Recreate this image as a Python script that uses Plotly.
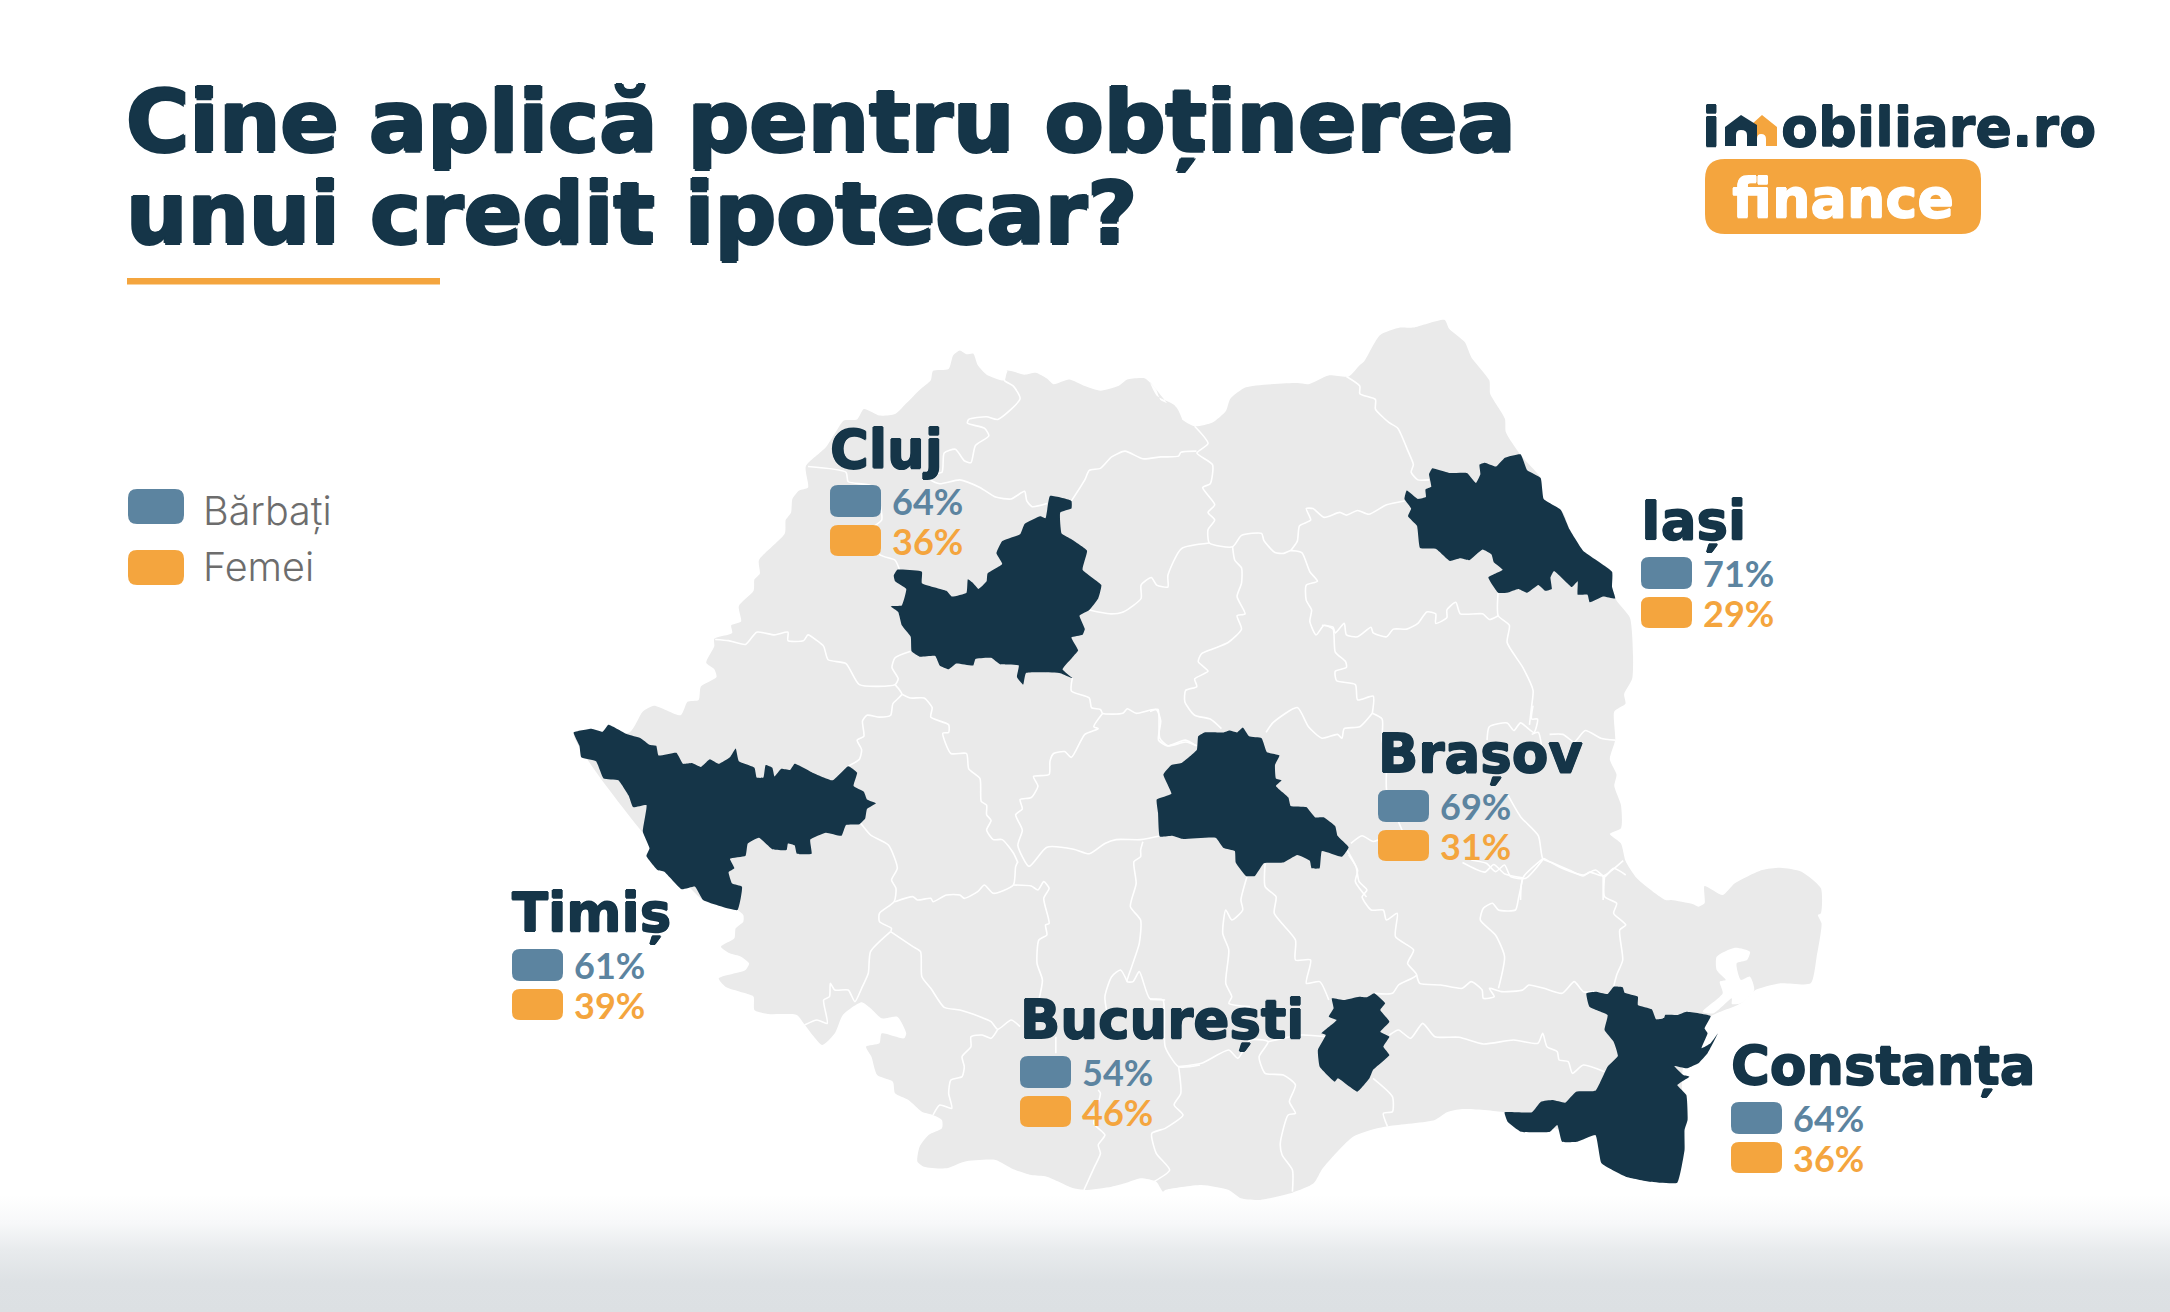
import plotly.graph_objects as go

# ---------- chart data ----------
judete = ["Cluj", "Iași", "Brașov", "Timiș", "București", "Constanța"]
barbati = [64, 71, 69, 61, 54, 64]
femei = [36, 29, 31, 39, 46, 36]
legend_labels = ["Bărbați", "Femei"]
title_lines = ["Cine aplică pentru obținerea", "unui credit ipotecar?"]

BLUE, ORANGE, DARK, GRAY = "#5C84A0", "#F4A53E", "#153548", "#EAEAEA"


def Z(x0, y0, fx, fy, pts):
    return [(x0 + a / fx, y0 + b / fy) for a, b in pts]


def Z2(p): return Z(500, 300, 2.24, 2.613, p)
def Z3(p): return Z(1150, 300, 2.24, 2.613, p)
def Z4(p): return Z(500, 800, 2.24, 3, p)
def Z5(p): return Z(1150, 800, 1.65, 3, p)


# ---------- map outlines ----------
outer = (
    Z2([(165,1130),(290,1130),(320,1075),(345,1060),(405,1085),(420,1050),(445,1045),(450,1010),(485,985),(480,965),(462,948),(480,905),(480,885),(520,870),(518,850),(540,840),(535,800),(568,760),(570,730),(582,715),(580,680),(638,610),(640,575),(652,555),(655,520),(670,498),(690,490),(685,435),(730,385),(755,340),(770,315),(800,312),(815,285),(850,302),(885,298),(912,268),(940,235),(965,210),(970,185),(1005,180),(1015,145),(1030,132),(1045,142),(1060,140),(1070,170),(1090,195),(1130,210),(1135,185),(1175,195),(1200,190),(1225,205),(1240,220),(1275,208),(1310,225),(1345,237),(1385,225),(1405,208),(1445,205),(1470,235),(1480,262),(1515,280),(1530,320)])
    + Z3([(0,215),(15,250),(55,275),(70,310),(100,330),(140,320),(170,290),(180,258),(215,228),(330,217),(355,220),(400,197),(445,200),(470,170),(480,160),(515,92),(560,72),(590,72),(660,52),(670,75),(705,110),(720,150),(760,210),(762,245),(795,310),(797,345),(830,405),(875,465),(882,520),(925,555),(940,600),(970,655),(1035,710),(1035,750),(1045,785),(1075,830),(1082,930),(1080,990),(1062,1030),(1065,1055),(1040,1075),(1042,1150),(1030,1200),(1045,1240),(1040,1270),(1055,1320),(1055,1380),(1030,1395),(1055,1420),(1065,1465),(1090,1510),(1155,1568)])
    + Z5([(860,300),(895,312),(905,320),(915,310),(915,258),(945,285),(965,250),(1010,210),(1040,203),(1075,215),(1107,265),(1107,340),(1102,345),(1108,370),(1100,470),(1090,550),(1040,550),(997,572),(975,610),(935,640),(925,650),(880,800),(870,1000),(700,1000),(585,937),(515,927),(490,937),(470,960),(395,978),(375,985),(335,1010),(285,1105),(270,1150),(235,1178),(180,1200),(150,1195),(130,1170),(85,1155),(25,1170)])
    + Z4([(1485,1175),(1470,1145),(1435,1135),(1400,1150),(1370,1160),(1310,1170),(1285,1165),(1225,1130),(1190,1125),(1150,1108),(1110,1080),(1040,1085),(1000,1105),(950,1100),(935,1085),(940,1040),(960,1005),(990,985),(990,960),(970,945),(945,935),(915,900),(885,880),(880,845),(845,825),(832,770),(820,740),(850,730),(855,700),(905,715),(910,700),(890,650),(855,655),(830,625),(810,607),(768,645),(750,700),(722,735),(700,705),(680,670),(665,645),(600,642),(570,630),(568,590),(550,580),(505,560),(490,535),(550,510),(558,490),(540,470),(515,460),(495,440),(525,415),(528,385),(545,365),(545,345),(532,330),(455,300)])
)

lake = Z5([(965,443),(990,455),(985,480),(968,490),(975,540),(990,530),(997,570),(975,610),(960,612),(960,595),(930,640),(912,635),(945,580),(940,545),(950,540),(935,510),(935,470)])

dark_counties = [
    Z2([(165,1130),(205,1120),(230,1128),(243,1110),(285,1135),(315,1145),(335,1162),(350,1165),(355,1190),(395,1183),(410,1212),(430,1210),(450,1220),(470,1200),(490,1212),(515,1195),(528,1172),(535,1205),(570,1222),(575,1248),(590,1248),(595,1215),(610,1222),(615,1245),(630,1225),(650,1228),(660,1212),(700,1235),(745,1255),(780,1218),(800,1235),(792,1270),(815,1285),(822,1305),(842,1315),(822,1330),(818,1355),(805,1370),(775,1372),(765,1400),(730,1392),(695,1410),(698,1447),(665,1447),(660,1425),(645,1420),(642,1437),(610,1435),(580,1405),(555,1420),(550,1452),(515,1460),(525,1485),(512,1495),(520,1525),(542,1533)])
    + Z4([(532,330),(455,300),(437,260),(407,268),(368,215),(353,210),(328,168),(335,145),(320,95),(328,15)])
    + Z2([(298,1325),(288,1295),(265,1255),(232,1250),(215,1205),(182,1195),(178,1165),(165,1130)]),
    Z2([(890,705),(945,710),(945,740),(1000,760),(1012,775),(1045,765),(1048,730),(1060,740),(1072,755),(1090,735),(1092,715),(1125,690),(1112,662),(1125,630),(1165,612),(1175,585),(1210,565),(1222,570),(1232,512),(1280,525),(1280,545),(1255,555),(1258,610),(1280,625),(1315,655),(1305,705),(1347,745),(1340,780),(1320,810),(1298,825),(1310,860),(1305,875),(1280,882),(1295,915),(1285,930),(1260,965),(1282,988),(1255,975),(1178,975),(1172,1005),(1158,985),(1162,955),(1120,952),(1100,935),(1065,938),(1060,955),(1022,950),(1005,965),(985,955),(975,930),(940,932),(922,918),(920,880),(900,850),(892,815),(875,800),(900,798),(910,755),(885,735),(882,720),(890,705)]),
    Z3([(830,403),(845,445),(875,465),(882,520),(920,548),(940,600),(970,655),(1035,710),(1035,750),(1042,780),(1015,775),(985,790),(980,770),(958,770),(958,735),(945,750),(905,708),(897,725),(900,755),(885,760),(870,745),(845,765),(825,755),(800,765),(780,765),(758,725),(790,705),(770,685),(765,665),(745,652),(715,680),(695,675),(672,682),(640,650),(605,648),(598,590),(578,565),(585,545),(570,520),(575,498),(600,520),(618,515),(617,495),(630,488),(625,455),(632,440),(670,452),(710,452),(730,478),(740,455),(738,430),(750,425),(775,435),(795,412),(830,403)]),
    Z3([(208,1117),(222,1140),(250,1145),(262,1182),(290,1190),(280,1215),(282,1250),(295,1255),(282,1270),(310,1300),(315,1322),(350,1325),(370,1352),(390,1352),(415,1375),(420,1400),(445,1430),(430,1455),(385,1440),(380,1485),(362,1485),(358,1465),(330,1450),(298,1470),(255,1472),(235,1505),(215,1505),(192,1470),(190,1440),(165,1432),(147,1405),(72,1408),(50,1400),(22,1402),(18,1340),(15,1305),(48,1290),(30,1240),(48,1215),(70,1210),(105,1175),(108,1140),(122,1130),(165,1130),(178,1125),(195,1130),(208,1117)]),
    Z5([(370,580),(388,610),(380,630),(395,665),(380,695),(395,710),(385,740),(395,765),(368,810),(362,835),(342,875),(310,835),(305,845),(280,800),(277,750),(290,705),(283,700),(308,660),(295,650),(303,625),(300,595),(320,600),(345,590),(358,592),(370,580)]),
    Z5([(765,560),(780,562),(783,578),(805,590),(805,615),(828,628),(835,658),(848,655),(850,645),(870,645),(885,635),(925,648),(915,685),(920,700),(910,745),(925,730),(937,700),(920,760),(905,790),(893,800),(885,805),(865,798),(880,825),(890,830),(870,855),(885,885),(887,960),(882,990),(882,1050),(870,1148),(825,1145),(785,1130),(745,1090),(735,1005),(705,1025),(680,1025),(672,975),(660,995),(612,995),(590,965),(585,937),(630,937),(645,905),(665,900),(685,908),(703,875),(735,872),(755,800),(772,768),(765,725),(750,690),(755,645),(725,620),(720,580),(735,575),(755,582),(765,560)]),
]

borders = [
    Z2([(1135,185),(1130,210),(1150,225),(1165,258),(1115,312),(1090,305),(1050,312),(1047,322),(1085,335),(1095,355),(1065,380),(1055,425),(1040,420),(1020,390),(995,400),(990,450),(965,455),(965,470),(985,480),(1030,470),(1075,490),(1110,515),(1145,520),(1175,500),(1180,525),(1192,540),(1225,532)]),
    Z2([(690,435),(775,450),(780,475),(830,485),(850,530),(855,575),(830,600),(850,665),(885,680),(895,705)]),
    Z2([(482,887),(512,890),(550,900),(575,868),(615,875),(645,868),(645,890),(680,890),(690,875),(710,890),(725,905),(735,940),(775,950),(805,1005),(885,1005),(892,990),(878,960),(885,935),(920,918)]),
    Z2([(885,1005),(900,1030),(880,1055),(875,1085),(850,1090),(822,1085),(812,1100),(815,1140),(800,1150),(810,1175),(805,1200),(780,1218)]),
    Z2([(900,1030),(920,1040),(950,1040),(968,1065),(965,1090),(1005,1110),(1005,1130),(992,1132),(1010,1185),(1045,1185),(1050,1225),(1075,1250),(1078,1310),(1090,1320),(1090,1345),(1100,1360),(1090,1385),(1105,1410),(1125,1410),(1150,1445),(1160,1470)]),
    Z2([(1282,988),(1280,1022),(1320,1040),(1325,1065),(1345,1070),(1350,1080),(1395,1080),(1405,1068),(1425,1080),(1470,1070),(1480,1100),(1475,1150),(1495,1165),(1535,1150),(1560,1165)]),
    Z2([(1350,1080),(1330,1115),(1340,1120),(1310,1135),(1280,1195),(1265,1180),(1240,1185),(1232,1205),(1230,1240),(1195,1245),(1205,1270),(1190,1300),(1165,1305),(1170,1330),(1155,1345),(1170,1385),(1160,1425),(1185,1480),(1225,1430),(1285,1435),(1320,1447),(1355,1420),(1380,1410),(1435,1410),(1480,1400)]),
    Z2([(1280,525),(1310,470),(1320,445),(1345,440),(1370,410),(1400,395),(1440,415),(1480,410),(1520,408),(1525,398),(1560,395)]),
    Z4([(808,70),(830,105),(870,135),(890,205),(877,240),(887,265),(883,305),(850,340),(850,365),(877,385),(875,395)]),
    Z4([(885,305),(925,290),(935,300),(965,295),(970,305),(1000,285),(1030,285),(1040,295),(1070,275),(1085,255),(1105,280),(1150,255),(1155,200),(1160,185)]),
    Z4([(1150,255),(1190,258),(1205,270),(1218,245),(1230,265),(1218,295),(1230,370),(1222,375),(1225,405),(1207,420),(1203,490),(1215,540),(1207,600)]),
    Z4([(875,395),(925,440),(942,455),(945,530),(965,565),(995,622),(1030,630),(1075,650),(1100,665),(1115,688),(1145,660),(1165,680)]),
    Z4([(875,395),(830,455),(825,520),(810,565),(795,605),(780,570),(750,570),(740,550),(738,590),(725,600),(733,670),(710,660),(682,675)]),
    Z4([(1115,688),(1100,715),(1080,705),(1055,710),(1055,740),(1035,770),(1040,800),(1035,830),(1010,840),(1005,880),(1012,925),(985,915),(970,945)]),
    Z4([(1440,125),(1435,150),(1435,170),(1420,185),(1425,250),(1412,320),(1435,360),(1432,430),(1415,500),(1405,545),(1418,545),(1432,515),(1455,595),(1485,600),(1490,740),(1520,800),(1568,795)]),
    Z4([(1405,545),(1390,510),(1370,530),(1355,590),(1360,640)]),
    Z4([(1245,710),(1245,760)]),
    Z4([(1340,870),(1345,880),(1330,970),(1355,1005),(1340,1035),(1345,1060),(1330,1105),(1308,1170)]),
    Z4([(1520,800),(1525,880),(1510,915),(1530,945),(1490,985),(1460,1000),(1470,1060),(1500,1110),(1465,1145)]),
    Z5([(47,800),(85,790),(130,750),(145,775),(165,720),(195,725),(180,770),(190,820),(220,825),(240,855),(230,905),(240,940),(228,945),(215,1030),(218,1065),(235,1110),(235,1175)]),
    Z5([(195,725),(250,705),(290,710)]),
    Z5([(395,705),(410,690),(430,715),(450,670),(470,710),(510,712),(550,732),(600,720),(640,730),(648,700),(655,740),(672,755),(675,780),(690,785),(697,820),(715,795),(750,815)]),
    Z5([(368,835),(400,890),(400,935),(385,940),(392,980)]),
    Z5([(160,230),(150,300),(153,330),(135,360),(125,330),(120,400),(130,450),(125,550),(135,590),(130,610),(165,620)]),
    Z5([(0,598),(25,600)]),
    Z5([(190,190),(190,260),(208,290),(205,340),(240,420),(240,480),(265,480),(258,550),(280,545),(295,600)]),
    Z5([(325,150),(340,200),(345,245),(358,270),(350,290),(365,330),(385,330),(390,360),(408,340),(405,410),(435,450),(425,490),(440,525),(410,555),(400,580),(370,580)]),
    Z5([(440,525),(445,550),(480,555),(515,565),(530,545),(548,570),(550,595),(568,590),(560,565),(580,575),(615,570),(625,555),(650,565),(680,580),(700,545),(715,575),(735,575)]),
    Z5([(575,565),(585,470),(570,405),(545,360),(550,325),(565,310),(575,330),(603,330),(608,295),(615,235)]),
    Z5([(750,230),(750,290),(770,310),(765,340),(785,375),(775,390),(780,480),(770,525),(765,560)]),
    Z5([(650,175),(620,235),(595,230),(585,195),(570,215),(555,190),(530,180)]),
    Z5([(650,175),(680,205),(715,225),(735,210),(750,230),(765,205),(785,225)]),
    Z3([(850,1110),(855,1060),(858,1020),(835,960),(800,895),(805,850),(780,825),(780,760)]),
    Z3([(100,330),(130,375),(105,400),(140,430),(135,480),(118,490),(145,535),(130,555),(145,575),(130,600),(133,635),(185,645),(205,615),(250,610),(255,628),(280,660),(300,662),(315,655),(340,660),(358,710),(375,735),(350,745),(350,785),(362,810),(358,840),(372,875),(390,850),(410,860),(415,920),(438,945),(440,960),(415,970),(418,995),(460,1005),(465,1045),(500,1035),(498,1080)]),
    Z3([(440,200),(470,225),(470,245),(505,260),(505,285),(535,320),(555,335),(578,395),(590,430),(585,450),(600,470),(625,470)]),
    Z3([(570,525),(530,535),(490,560),(465,550),(440,562),(425,555),(390,568),(365,545),(350,545),(360,575),(335,590),(330,630),(315,655)]),
    Z3([(133,635),(70,650),(40,720),(40,750),(15,745),(3,725),(-20,745),(-20,780),(-60,815),(-90,820),(-136,810)]),
    Z3([(185,645),(190,680),(205,700),(205,740),(195,775),(213,820),(195,825),(205,860),(175,895),(140,912),(115,925),(108,945),(130,970),(100,990),(105,1010),(80,1020),(78,1050),(100,1085),(135,1095),(160,1120)]),
    Z3([(385,850),(410,855),(415,870),(435,845),(440,875),(465,880),(495,855),(500,870),(530,880),(545,860),(575,860),(600,845),(620,815),(640,820),(640,845),(665,830),(665,810),(685,790),(695,820),(745,820),(760,835),(780,825)]),
    Z3([(498,1080),(520,1095),(520,1150),(530,1200),(530,1280),(570,1400)]),
    Z3([(260,1130),(275,1105),(330,1065),(355,1115),(385,1145),(420,1135),(430,1145),(435,1120),(470,1115),(498,1080)]),
    Z3([(0,1075),(18,1070),(22,1145),(40,1165),(80,1155),(105,1165)]),
    Z3([(755,1150),(760,1115),(800,1105),(815,1125),(830,1105),(860,1130),(868,1095),(855,1095),(858,1060)]),
    Z3([(895,1135),(925,1135),(950,1155),(975,1125),(1010,1145),(1042,1150)]),
    Z3([(855,1135),(870,1130),(880,1195)]),
    Z3([(800,1290),(830,1350),(870,1400),(880,1460),(900,1470),(940,1490),(970,1505),(985,1495),(1015,1505),(1060,1465)]),
    Z3([(880,1460),(835,1510),(830,1568)]),
    Z3([(1015,1505),(1015,1568)]),
    Z3([(450,1420),(475,1400),(500,1415),(530,1400)]),
    Z3([(445,1450),(465,1490),(460,1520),(485,1560)]),
    Z3([(700,1470),(750,1495),(770,1475),(795,1500),(835,1510)]),
]

# label anchors: left edge, title baseline
label_x = [830, 1641, 1378, 512, 1020, 1731]
label_base = [466, 538, 771, 930, 1037, 1083]


def xy(pts):
    return [p[0] for p in pts], [p[1] for p in pts]


def round_rect(x0, y0, x1, y1, r, color):
    path = (f"M{x0+r},{y0} L{x1-r},{y0} Q{x1},{y0} {x1},{y0+r} L{x1},{y1-r} Q{x1},{y1} {x1-r},{y1} "
            f"L{x0+r},{y1} Q{x0},{y1} {x0},{y1-r} L{x0},{y0+r} Q{x0},{y0} {x0+r},{y0} Z")
    return dict(type="path", path=path, fillcolor=color, line=dict(width=0), layer="above")


fig = go.Figure()
H = 1312
W = 2170
SMOOTH = dict(shape="spline", smoothing=0.6, width=0)

# bottom fade
fig.add_trace(go.Scatter(x=[0, W, W, 0, 0], y=[1195, 1195, H, H, 1195], mode="lines", line=dict(width=0),
                         fill="toself",
                         fillgradient=dict(type="vertical", start=1195, stop=H,
                                           colorscale=[[0, "#FFFFFF"], [0.24, "#F7F8F9"], [0.47, "#E8EBED"],
                                                       [0.75, "#DDE1E4"], [1, "#DCE0E3"]]),
                         hoverinfo="skip"))
# country
x, y = xy(outer + outer[:1])
fig.add_trace(go.Scatter(x=x, y=y, mode="lines", line=SMOOTH, fill="toself", fillcolor=GRAY, hoverinfo="skip"))
# borders
bx, by = [], []
for b in borders:
    a, c = xy(b)
    bx += a + [None]
    by += c + [None]
fig.add_trace(go.Scatter(x=bx, y=by, mode="lines", line=dict(color="#FFFFFF", width=1.6, shape="spline", smoothing=0.6), hoverinfo="skip"))
# lake
x, y = xy(lake + lake[:1])
fig.add_trace(go.Scatter(x=x, y=y, mode="lines", line=SMOOTH, fill="toself", fillcolor="#FFFFFF", hoverinfo="skip"))
# highlighted counties
for poly in dark_counties:
    x, y = xy(poly)
    fig.add_trace(go.Scatter(x=x, y=y, mode="lines", line=dict(shape="spline", smoothing=0.35, width=0), fill="toself", fillcolor=DARK, hoverinfo="skip"))

shapes = []
ann = []


def thick(px, color):
    return ", ".join(f"{a}px {b}px 0 {color}" for a, b in [(px, 0), (-px, 0), (0, px), (0, -px)])


def text(x, y, s, size, color, family, weight=400, anchor="left", bold_px=0):
    font = dict(size=size, color=color, family=family, weight=weight)
    if bold_px:
        font["shadow"] = thick(bold_px, color)
    ann.append(dict(x=x, y=y, text=s, xref="x", yref="y", showarrow=False, xanchor=anchor, yanchor="middle",
                    font=font, borderpad=0, borderwidth=0))


# title
T = "DejaVu Sans"
text(126, 121, title_lines[0], 86.3, DARK, T, 700, bold_px=1.5)
text(126, 213, title_lines[1], 86.3, DARK, T, 700, bold_px=1.5)
shapes.append(dict(type="rect", x0=127, x1=440, y0=278, y1=284.5, fillcolor=ORANGE, line=dict(width=0), layer="above"))

# logo
text(1702, 127, "i", 54, DARK, T, 700, bold_px=0.6)
shapes.append(dict(type="path", path="M1752,124 L1762,115 L1777,127 L1777,146 L1766,146 L1766,139 Q1766,134 1761,134 Q1757,134 1757,139 L1757,146 L1752,146 Z", fillcolor=ORANGE, line=dict(width=0), layer="above"))
shapes.append(dict(type="path", path="M1725,146 L1725,127 L1741,115 L1757,125 L1757,146 L1747,146 L1747,135 Q1747,130 1741,130 Q1736,130 1736,135 L1736,146 Z", fillcolor=DARK, line=dict(width=0), layer="above"))
text(1781, 127, "obiliare.ro", 54, DARK, T, 700, bold_px=0.6)
shapes.append(round_rect(1705, 159, 1981, 234, 20, ORANGE))
text(1843, 198, "finance", 54, "#FFFFFF", T, 700, "center", bold_px=0.6)

# legend
shapes.append(round_rect(128, 489, 184, 524, 9, BLUE))
shapes.append(round_rect(128, 550, 184, 585, 9, ORANGE))
text(203, 511, legend_labels[0], 39.5, "#6D6D6D", "Inter", 300)
text(203, 567, legend_labels[1], 39.5, "#6D6D6D", "Inter", 300)

# county labels
for name, m, f, lx, b in zip(judete, barbati, femei, label_x, label_base):
    text(lx, b - 17, name, 53, DARK, T, 700, bold_px=0.8)
    shapes.append(round_rect(lx, b + 19, lx + 51, b + 51, 8, BLUE))
    shapes.append(round_rect(lx, b + 59, lx + 51, b + 90, 8, ORANGE))
    text(lx + 62, b + 35, f"{m}%", 36, BLUE, "Lato", 700)
    text(lx + 62, b + 75, f"{f}%", 36, ORANGE, "Lato", 700)

fig.update_layout(
    width=W, height=H, margin=dict(l=0, r=0, t=0, b=0), showlegend=False,
    paper_bgcolor="#FFFFFF", plot_bgcolor="#FFFFFF", shapes=shapes, annotations=ann,
    xaxis=dict(range=[0, W], visible=False, fixedrange=True),
    yaxis=dict(range=[H, 0], visible=False, fixedrange=True),
)
fig.write_html("out.html", config=dict(displayModeBar=False),
               post_script="document.body.style.margin='0';document.documentElement.style.overflow='hidden';")
